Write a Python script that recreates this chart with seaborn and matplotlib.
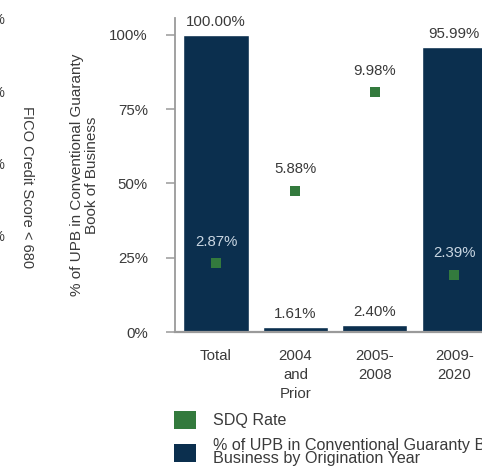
import matplotlib
matplotlib.use("Agg")
import matplotlib.pyplot as plt
import seaborn as sns
import pandas as pd
import numpy as np
from matplotlib.patches import Patch
from matplotlib.ticker import FixedLocator, FuncFormatter

# ---------------- data ----------------
categories = ["Total", "2004\nand\nPrior", "2005-\n2008", "2009-\n2020"]
upb_share = [100.00, 1.61, 2.40, 95.99]
sdq_rate = [2.87, 5.88, 9.98, 2.39]
upb_labels = ["100.00%", "1.61%", "2.40%", "95.99%"]
sdq_labels = ["2.87%", "5.88%", "9.98%", "2.39%"]
y_ticks = [0, 25, 50, 75, 100]
y_label = "% of UPB in Conventional Guaranty\nBook of Business"
side_label = "FICO Credit Score < 680"
legend_labels = ["SDQ Rate",
                 "% of UPB in Conventional Guaranty Book of\nBusiness by Origination Year"]

# ---------------- style ----------------
NAVY = "#0b2f4e"
GREEN = "#337a3d"
TEXT = "#3a3a3a"
LIGHT = "#c9d6e2"
AXIS = "#9a9a9a"

sns.set_theme(style="white")
plt.rcParams["font.family"] = ["Liberation Sans", "DejaVu Sans"]

W, H = 482, 469
fig = plt.figure(figsize=(W / 100, H / 100), dpi=100)


def fx(px):
    return px / W


def fy(py):
    return 1 - py / H


x_left, x_right = 175, 502
y_top, y_base = 18, 332
ax = fig.add_axes([fx(x_left), fy(y_base), (x_right - x_left) / W, (y_base - y_top) / H])

df = pd.DataFrame({"cat": categories, "upb": upb_share, "sdq": sdq_rate})
df["pos"] = np.arange(len(df))

sns.barplot(data=df, x="pos", y="upb", color=NAVY, saturation=1, width=0.82,
            ax=ax, native_scale=True)

ax.set_xlim(-0.516, 3.6)
ax.set_ylim(0, 105.7)
ax.xaxis.set_major_locator(FixedLocator(df["pos"].tolist()))
ax.set_xticklabels(categories)
ax.yaxis.set_major_locator(FixedLocator(y_ticks))
ax.yaxis.set_major_formatter(FuncFormatter(lambda v, p: f"{v:.0f}%"))
ax.set_xlabel("")
ax.set_ylabel("")

for s in ["top", "right"]:
    ax.spines[s].set_visible(False)
ax.spines["left"].set_color(AXIS)
ax.spines["left"].set_linewidth(1.3)
ax.spines["bottom"].set_color(AXIS)
ax.spines["bottom"].set_linewidth(1.6)

ax.tick_params(axis="y", left=True, length=6.5, width=1.1, color=AXIS,
               pad=13, labelsize=10.8, labelcolor=TEXT, direction="out")
ax.tick_params(axis="x", bottom=False, length=0, pad=12.5, labelsize=10.8,
               labelcolor=TEXT)
for t in ax.get_xticklabels():
    t.set_linespacing(1.42)

for i, (v, lab) in enumerate(zip(upb_share, upb_labels)):
    ax.annotate(lab, (df["pos"][i], v), xytext=(0, 9.5), textcoords="offset points",
                ha="center", va="center", fontsize=10.8, color=TEXT)

# secondary (hidden) axis for SDQ rate
ax2 = ax.twinx()
ax2.set_ylim(0, 13.08)
sns.scatterplot(data=df, x="pos", y="sdq", marker="s", s=55, color=GREEN,
                linewidth=0, ax=ax2, zorder=5)
for s in ax2.spines.values():
    s.set_visible(False)
ax2.set_yticks([])
ax2.set_ylabel("")
ax2.set_xlabel("")
ax2.set_xlim(ax.get_xlim())

for i, (v, lab) in enumerate(zip(sdq_rate, sdq_labels)):
    inside = upb_share[i] / 105.7 > v / 13.08
    ax2.annotate(lab, (df["pos"][i], v), xytext=(0, 15.5), textcoords="offset points",
                 ha="center", va="center", fontsize=10.8,
                 color=LIGHT if inside else TEXT)

# axis titles
fig.text(fx(84.5), fy(175), y_label, rotation=90, ha="center", va="center",
         fontsize=11, color=TEXT, linespacing=1.05, multialignment="center")
fig.text(fx(27), fy(187), side_label, rotation=270, ha="center", va="center",
         fontsize=10.5, color=TEXT)

# fragments of the neighbouring chart's tick labels (cut in the reference too)
for yy in [20, 93, 165, 237]:
    fig.text(fx(-9), fy(yy), "%", ha="left", va="center", fontsize=10.5, color=TEXT)

# legend (one entry per legend so each row can be placed like the reference)
legend_colors = [GREEN, NAVY]
legend_rows_px = [420, 452]
for col, lab, ypx in zip(legend_colors, legend_labels, legend_rows_px):
    leg = fig.legend(handles=[Patch(facecolor=col, edgecolor="none")],
                     labels=[lab], loc="center left",
                     bbox_to_anchor=(fx(174), fy(ypx)), frameon=False, fontsize=11.6,
                     handlelength=1.35, handleheight=1.35, handletextpad=1.05,
                     borderpad=0, borderaxespad=0)
    for t in leg.get_texts():
        t.set_color(TEXT)
        t.set_linespacing(0.85)

fig.savefig("out.png", dpi=100)
